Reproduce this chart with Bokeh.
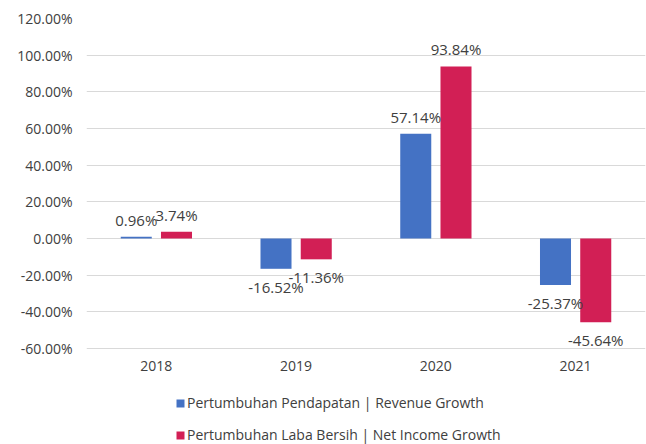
from bokeh.plotting import figure
from bokeh.models import (ColumnDataSource, FactorRange, Range1d, FixedTicker,
                          NumeralTickFormatter, Legend, LegendItem)
from bokeh.transform import dodge
from bokeh.core.properties import value
from bokeh.embed import file_html
from bokeh.resources import INLINE

years = ["2018", "2019", "2020", "2021"]
revenue_growth = [0.0096, -0.1652, 0.5714, -0.2537]
net_income_growth = [0.0374, -0.1136, 0.9384, -0.4564]
series_names = ["Pertumbuhan Pendapatan | Revenue Growth",
                "Pertumbuhan Laba Bersih | Net Income Growth"]
y_ticks = [-0.6, -0.4, -0.2, 0.0, 0.2, 0.4, 0.6, 0.8, 1.0, 1.2]
y_axis_min = -0.6

BLUE = "#4472C4"
RED = "#D21F55"
FONT = "Open Sans"
TXT = "#404040"

def label_text(vals):
    return [f"{v*100:.2f}%" for v in vals]

def offsets(vals):
    return [-17 if v >= 0 else 18 for v in vals]

src = ColumnDataSource(dict(
    year=years,
    rev=revenue_growth,
    net=net_income_growth,
    rev_lbl=label_text(revenue_growth),
    net_lbl=label_text(net_income_growth),
    rev_off=offsets(revenue_growth),
    net_off=offsets(net_income_growth),
))

# frame extends to the bottom edge so the legend can sit below the value axis
p = figure(width=646, height=444, output_backend="svg", toolbar_location=None,
           x_range=FactorRange(factors=years, range_padding=0),
           y_range=Range1d(-1.1236, 1.2),
           min_border_left=86, min_border_right=1, min_border_top=18,
           min_border_bottom=0)
p.outline_line_color = None
p.background_fill_color = "white"
p.border_fill_color = "white"

bw = 0.222
off = 0.144
r1 = p.vbar(x=dodge("year", -off, range=p.x_range), top="rev", bottom=0,
            width=bw, source=src, fill_color=BLUE, line_color=None)
r2 = p.vbar(x=dodge("year", off, range=p.x_range), top="net", bottom=0,
            width=bw, source=src, fill_color=RED, line_color=None)

p.text(x=dodge("year", -off, range=p.x_range), y="rev", text="rev_lbl",
       y_offset="rev_off", source=src, text_align="center",
       text_baseline="middle", text_font=value(FONT), text_font_size="15px",
       text_color=TXT)
p.text(x=dodge("year", off, range=p.x_range), y="net", text="net_lbl",
       y_offset="net_off", source=src, text_align="center",
       text_baseline="middle", text_font=value(FONT), text_font_size="15px",
       text_color=TXT)

# axes
p.yaxis.ticker = FixedTicker(ticks=y_ticks)
p.yaxis.formatter = NumeralTickFormatter(format="0.00%")
p.yaxis.axis_line_color = None
p.yaxis.major_tick_line_color = None
p.yaxis.minor_tick_line_color = None
p.yaxis.major_tick_out = 0
p.yaxis.major_label_standoff = 14
p.yaxis.major_label_text_font = FONT
p.yaxis.major_label_text_font_size = "14px"
p.yaxis.major_label_text_color = TXT

p.xaxis.fixed_location = y_axis_min
p.xaxis.axis_line_color = None
p.xaxis.major_tick_line_color = None
p.xaxis.major_tick_out = 0
p.xaxis.major_label_standoff = 12
p.xaxis.major_label_text_font = FONT
p.xaxis.major_label_text_font_size = "14px"
p.xaxis.major_label_text_color = TXT

p.xgrid.grid_line_color = None
p.ygrid.ticker = FixedTicker(ticks=y_ticks)
p.ygrid.grid_line_color = "#D9D9D9"
p.ygrid.grid_line_width = 1

legend = Legend(items=[LegendItem(label=series_names[0], renderers=[r1]),
                       LegendItem(label=series_names[1], renderers=[r2])],
                location=(89, 0), orientation="vertical",
                glyph_width=10, glyph_height=10, label_height=17,
                spacing=13, padding=0, margin=0, label_standoff=2,
                border_line_color=None, background_fill_alpha=0,
                label_text_font=FONT, label_text_font_size="14px",
                label_text_color=TXT)
p.add_layout(legend, "center")

open("out.html", "w").write(file_html(p, INLINE))
